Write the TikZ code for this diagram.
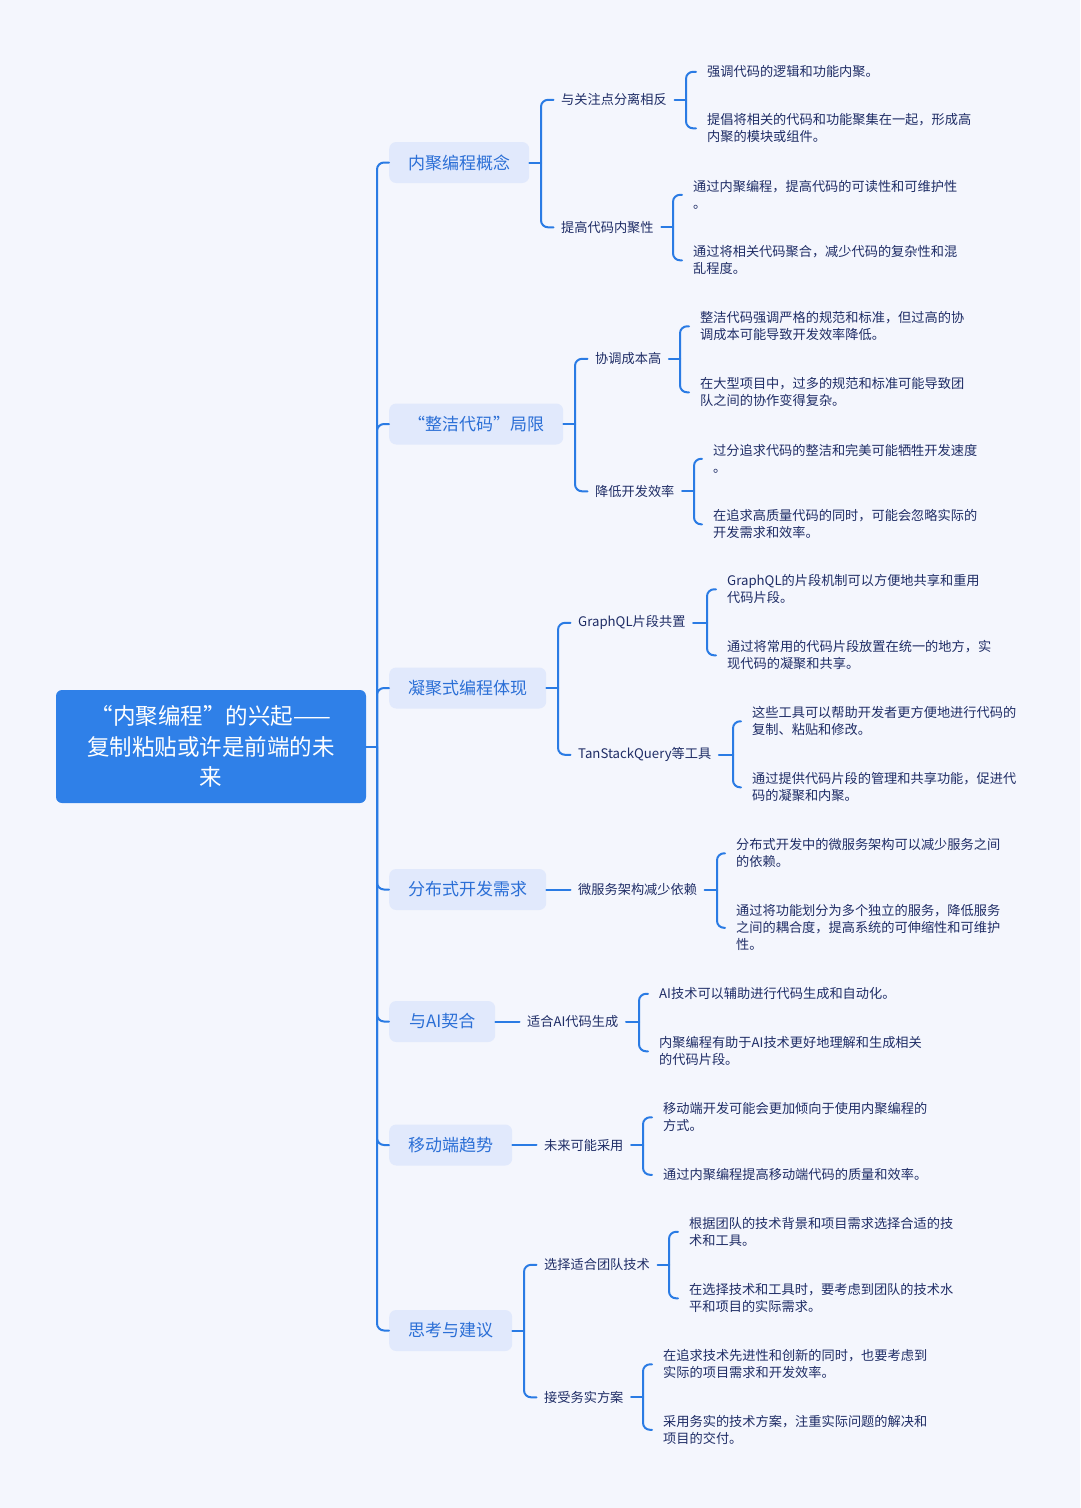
\documentclass[tikz,border=0pt]{standalone}
\usepackage{fontspec}
\setmainfont{Noto Sans CJK SC}
\definecolor{bgc}{HTML}{F4F6FD}
\definecolor{rootc}{HTML}{2F80E8}
\definecolor{lonec}{HTML}{E1E9FC}
\definecolor{lonet}{HTML}{2B6FD6}
\definecolor{linec}{HTML}{2A7BE4}
\definecolor{txtc}{HTML}{1F2D66}
\tikzset{
  conn/.style={draw=linec, line width=2pt, line cap=round},
  rc/.style={conn, rounded corners=7pt},
  rootbox/.style={fill=rootc, rounded corners=6pt, text=white, align=center, inner sep=0pt,
    minimum width=310pt, minimum height=113pt, font=\fontsize{22.5}{30.5}\selectfont},
  lonebox/.style={fill=lonec, rounded corners=7pt, text=lonet, inner sep=0pt, anchor=west,
    minimum height=41pt, font=\fontsize{17}{20}\selectfont},
  ltwo/.style={anchor=west, text=txtc, inner xsep=7.5pt, inner ysep=2pt, yshift=-0.8pt, font=\fontsize{13.2}{17}\selectfont},
  lthree/.style={anchor=west, text=txtc, inner xsep=11pt, inner ysep=2pt, yshift=-0.8pt, align=left, font=\fontsize{13.2}{17}\selectfont}
}
\begin{document}
\begin{tikzpicture}[x=1pt,y=-1pt]
\fill[bgc] (0,0) rectangle (1080,1508);
\useasboundingbox (0,0) rectangle (1080,1508);

% root
\node[rootbox] (root) at (211,746.5) {“内聚编程”的兴起——\\复制粘贴或许是前端的未\\来};
\coordinate (jt) at (377,746.5);

% level 1
\node[lonebox, minimum width=140pt] (a) at (389,162.5) {内聚编程概念};
\node[lonebox, minimum width=174pt] (b) at (389,424) {“整洁代码”局限};
\node[lonebox, minimum width=157pt] (c) at (389,688) {凝聚式编程体现};
\node[lonebox, minimum width=157pt] (d) at (389,889.5) {分布式开发需求};
\node[lonebox, minimum width=106pt] (e) at (389,1021.5) {与AI契合};
\node[lonebox, minimum width=123pt] (f) at (389,1145) {移动端趋势};
\node[lonebox, minimum width=123pt] (g) at (389,1330.5) {思考与建议};

\draw[conn] (root.east) -- (jt);
\foreach \n in {a,b,c,d,e,f,g} { \draw[rc] (jt) |- (\n.west); }

% group a
\coordinate (ja) at (541,162.5);
\node[ltwo] (a1) at (553.5,99) {与关注点分离相反};
\node[ltwo] (a2) at (553.5,226.5) {提高代码内聚性};
\draw[conn] (a.east) -- (ja);
\draw[rc] (ja) |- (a1.west);
\draw[rc] (ja) |- (a2.west);
\coordinate (ja1) at (686,99.8);
\node[lthree] (a11) at (696,71) {强调代码的逻辑和功能内聚。};
\node[lthree] (a12) at (696,127.5) {提倡将相关的代码和功能聚集在一起，形成高\\内聚的模块或组件。};
\draw[conn] (a1.east) -- (ja1);
\draw[rc] (ja1) |- (a11.west);
\draw[rc] (ja1) |- (a12.west);
\coordinate (ja2) at (673,227.3);
\node[lthree] (a21) at (682,194) {通过内聚编程，提高代码的可读性和可维护性\\。};
\node[lthree] (a22) at (682,259.5) {通过将相关代码聚合，减少代码的复杂性和混\\乱程度。};
\draw[conn] (a2.east) -- (ja2);
\draw[rc] (ja2) |- (a21.west);
\draw[rc] (ja2) |- (a22.west);

% group b
\coordinate (jb) at (575,424);
\node[ltwo] (b1) at (587.5,358) {协调成本高};
\node[ltwo] (b2) at (587.5,490.5) {降低开发效率};
\draw[conn] (b.east) -- (jb);
\draw[rc] (jb) |- (b1.west);
\draw[rc] (jb) |- (b2.west);
\coordinate (jb1) at (680,358.8);
\node[lthree] (b11) at (689,325.5) {整洁代码强调严格的规范和标准，但过高的协\\调成本可能导致开发效率降低。};
\node[lthree] (b12) at (689,391.5) {在大型项目中，过多的规范和标准可能导致团\\队之间的协作变得复杂。};
\draw[conn] (b1.east) -- (jb1);
\draw[rc] (jb1) |- (b11.west);
\draw[rc] (jb1) |- (b12.west);
\coordinate (jb2) at (694,491.3);
\node[lthree] (b21) at (702,458) {过分追求代码的整洁和完美可能牺牲开发速度\\。};
\node[lthree] (b22) at (702,523.5) {在追求高质量代码的同时，可能会忽略实际的\\开发需求和效率。};
\draw[conn] (b2.east) -- (jb2);
\draw[rc] (jb2) |- (b21.west);
\draw[rc] (jb2) |- (b22.west);

% group c
\coordinate (jc) at (558,688);
\node[ltwo] (c1) at (570.5,622) {GraphQL片段共置};
\node[ltwo] (c2) at (570.5,754) {TanStackQuery等工具};
\draw[conn] (c.east) -- (jc);
\draw[rc] (jc) |- (c1.west);
\draw[rc] (jc) |- (c2.west);
\coordinate (jc1) at (707,622.8);
\node[lthree] (c11) at (716,588.5) {GraphQL的片段机制可以方便地共享和重用\\代码片段。};
\node[lthree] (c12) at (716,654.5) {通过将常用的代码片段放置在统一的地方，实\\现代码的凝聚和共享。};
\draw[conn] (c1.east) -- (jc1);
\draw[rc] (jc1) |- (c11.west);
\draw[rc] (jc1) |- (c12.west);
\coordinate (jc2) at (733,754.8);
\node[lthree] (c21) at (741,720.5) {这些工具可以帮助开发者更方便地进行代码的\\复制、粘贴和修改。};
\node[lthree] (c22) at (741,786.5) {通过提供代码片段的管理和共享功能，促进代\\码的凝聚和内聚。};
\draw[conn] (c2.east) -- (jc2);
\draw[rc] (jc2) |- (c21.west);
\draw[rc] (jc2) |- (c22.west);

% group d
\node[ltwo, yshift=0.8pt] (d1) at (570.5,889.5) {微服务架构减少依赖};
\draw[conn] (d.east) -- (d1.west);
\coordinate (jd1) at (717,889.5);
\node[lthree] (d11) at (725,852.5) {分布式开发中的微服务架构可以减少服务之间\\的依赖。};
\node[lthree] (d12) at (725,927) {通过将功能划分为多个独立的服务，降低服务\\之间的耦合度，提高系统的可伸缩性和可维护\\性。};
\draw[conn] (d1.east) -- (jd1);
\draw[rc] (jd1) |- (d11.west);
\draw[rc] (jd1) |- (d12.west);

% group e
\node[ltwo, yshift=0.8pt] (e1) at (519.5,1021.5) {适合AI代码生成};
\draw[conn] (e.east) -- (e1.west);
\coordinate (je1) at (639,1021.5);
\node[lthree] (e11) at (648,993) {AI技术可以辅助进行代码生成和自动化。};
\node[lthree] (e12) at (648,1050.5) {内聚编程有助于AI技术更好地理解和生成相关\\的代码片段。};
\draw[conn] (e1.east) -- (je1);
\draw[rc] (je1) |- (e11.west);
\draw[rc] (je1) |- (e12.west);

% group f
\node[ltwo, yshift=0.8pt] (f1) at (536.5,1145) {未来可能采用};
\draw[conn] (f.east) -- (f1.west);
\coordinate (jf1) at (643,1145);
\node[lthree] (f11) at (652,1116.5) {移动端开发可能会更加倾向于使用内聚编程的\\方式。};
\node[lthree] (f12) at (652,1174) {通过内聚编程提高移动端代码的质量和效率。};
\draw[conn] (f1.east) -- (jf1);
\draw[rc] (jf1) |- (f11.west);
\draw[rc] (jf1) |- (f12.west);

% group g
\coordinate (jg) at (524,1330.5);
\node[ltwo] (g1) at (536.5,1264) {选择适合团队技术};
\node[ltwo] (g2) at (536.5,1396.5) {接受务实方案};
\draw[conn] (g.east) -- (jg);
\draw[rc] (jg) |- (g1.west);
\draw[rc] (jg) |- (g2.west);
\coordinate (jg1) at (669,1264.8);
\node[lthree] (g11) at (678,1231) {根据团队的技术背景和项目需求选择合适的技\\术和工具。};
\node[lthree] (g12) at (678,1297.5) {在选择技术和工具时，要考虑到团队的技术水\\平和项目的实际需求。};
\draw[conn] (g1.east) -- (jg1);
\draw[rc] (jg1) |- (g11.west);
\draw[rc] (jg1) |- (g12.west);
\coordinate (jg2) at (643,1397.3);
\node[lthree] (g21) at (652,1363.5) {在追求技术先进性和创新的同时，也要考虑到\\实际的项目需求和开发效率。};
\node[lthree] (g22) at (652,1429) {采用务实的技术方案，注重实际问题的解决和\\项目的交付。};
\draw[conn] (g2.east) -- (jg2);
\draw[rc] (jg2) |- (g21.west);
\draw[rc] (jg2) |- (g22.west);
\end{tikzpicture}
\end{document}
